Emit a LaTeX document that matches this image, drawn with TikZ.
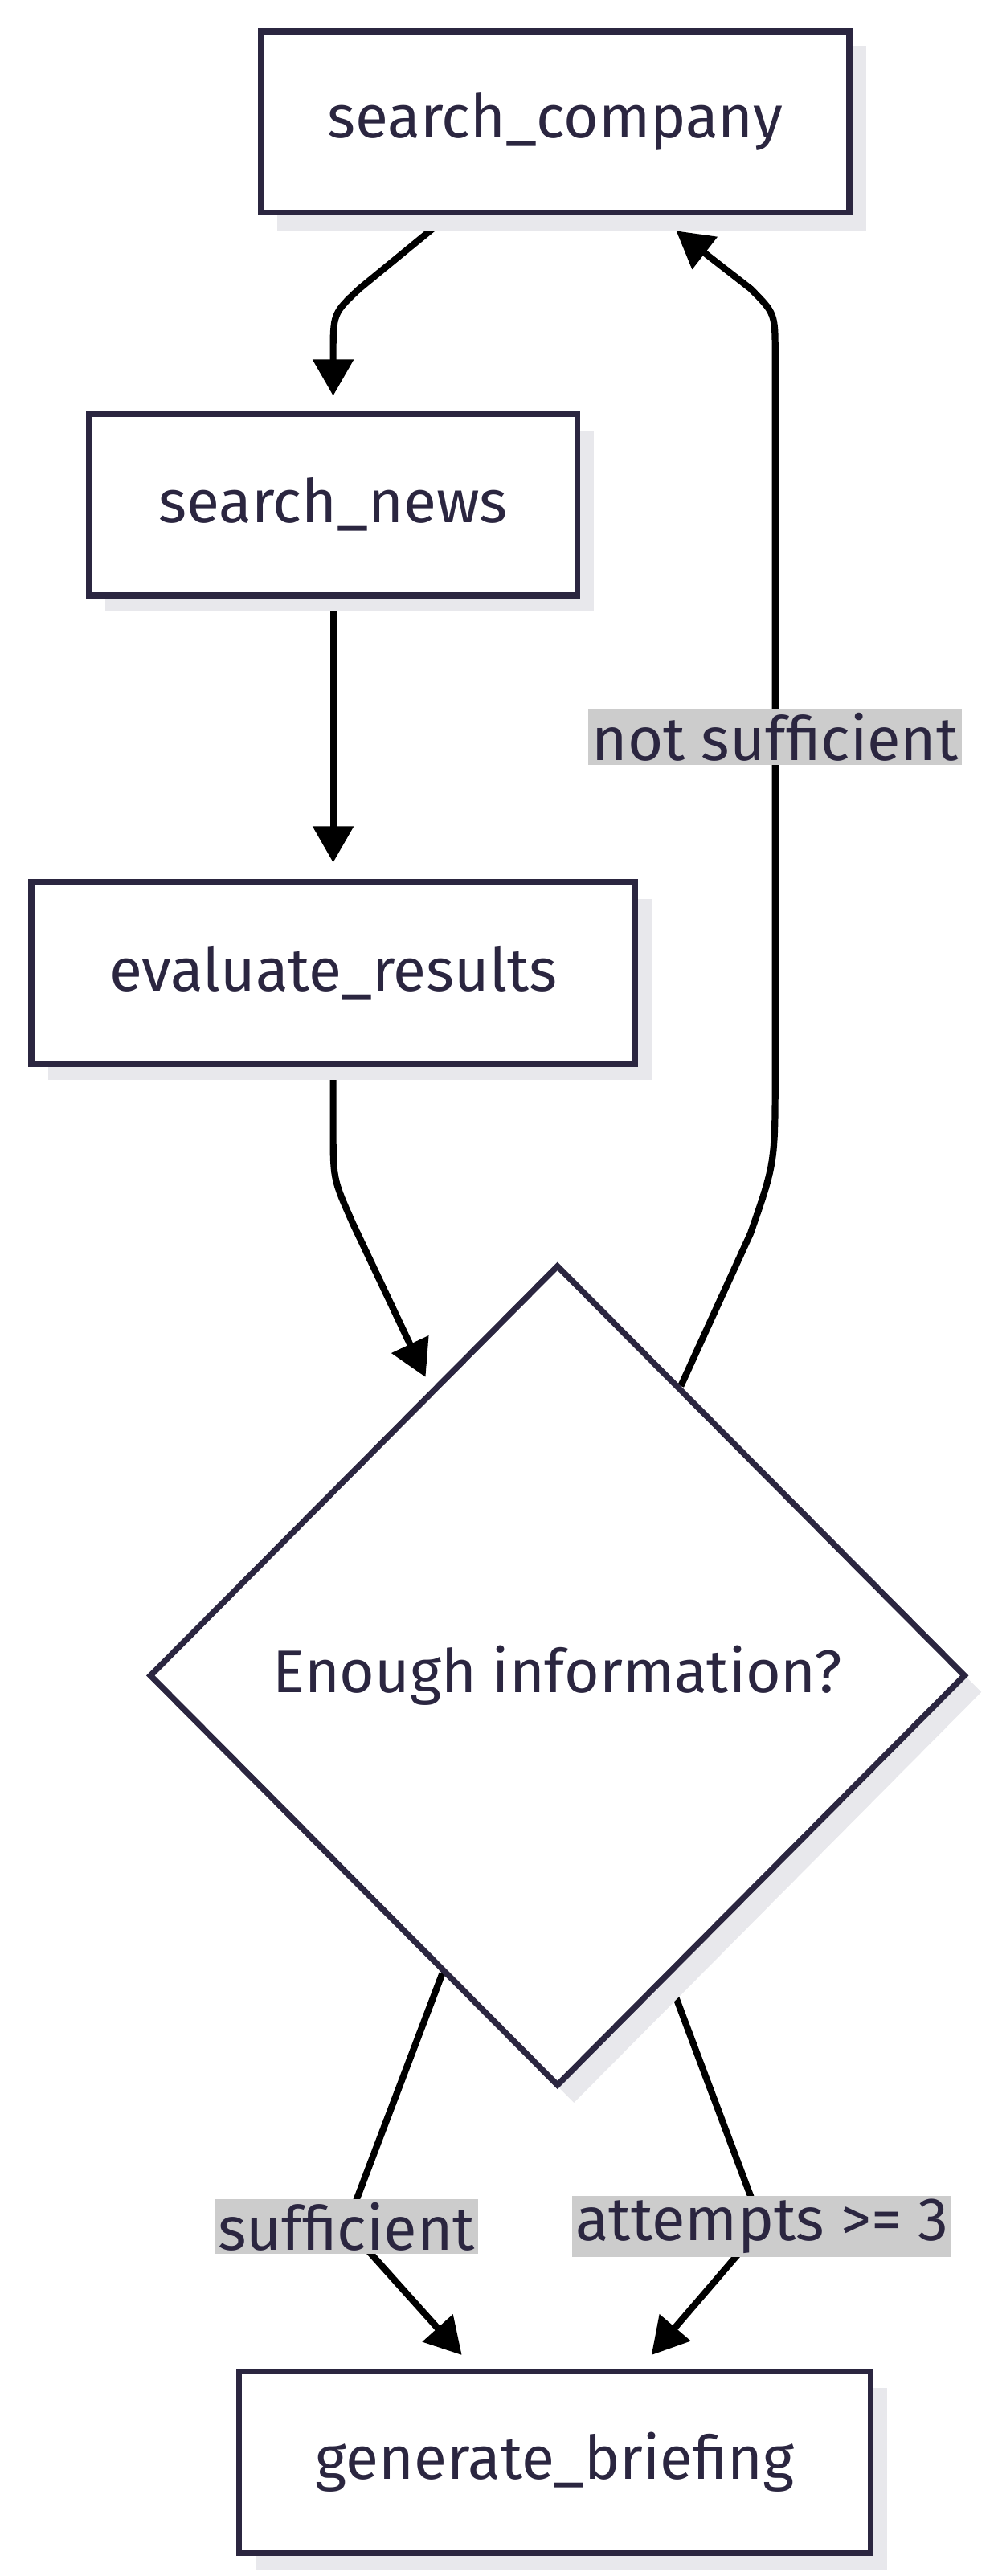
\documentclass[tikz,border=0pt]{standalone}
\usepackage{fontspec}
\setmainfont{Fira Sans}
\usetikzlibrary{shapes.geometric,arrows.meta,calc}
\pgfdeclarelayer{bg}\pgfsetlayers{bg,main}
\definecolor{ink}{HTML}{2B2640}
\definecolor{shad}{HTML}{E8E8EC}
\definecolor{lab}{HTML}{CCCCCC}
\tikzset{
 box/.style={draw=ink,line width=3.6pt,fill=white,minimum height=110pt,text=ink,font=\fontsize{36.5}{42}\selectfont},
 lbl/.style={fill=lab,text=ink,inner sep=2pt,font=\fontsize{37}{42}\selectfont},
 edge/.style={line width=4pt,-{Triangle[length=22pt,width=24pt]}},
}
\begin{document}
\begin{tikzpicture}[x=1pt,y=-1pt]
\useasboundingbox (0,0) rectangle (605,1562);
% shadows
\fill[shad] (168,28) rectangle (525,140);
\fill[shad] (64,261) rectangle (360,371);
\fill[shad] (29,545) rectangle (395,655);
\fill[shad] (155,1448) rectangle (538,1558);
\fill[shad] (348,777) -- (595,1026) -- (348,1275) -- (100,1026) -- cycle;
\node[box,minimum width=357pt] (sc) at (336.5,74) {search\_company};
\node[box,minimum width=296pt] (sn) at (202,306) {search\_news};
\node[box,minimum width=366pt] (ev) at (202,590) {evaluate\_results};
\node[box,minimum width=383pt] (gb) at (336.5,1493) {generate\_briefing};
\node[diamond,draw=ink,line width=3.6pt,fill=white,text=ink,inner sep=0pt,minimum width=495pt,minimum height=498pt,font=\fontsize{36.5}{42}\selectfont] (d) at (338,1016) {Enough information?};
\node[lbl] (l1) at (470,447) {not sufficient};
\node[lbl] (l2) at (210,1350) {sufficient};
\node[lbl] (l3) at (462,1350) {attempts >= 3};
\begin{pgfonlayer}{bg}
\draw[edge] ([xshift=-64.5pt]sc.south) -- (218,175) .. controls (202,190) .. (202,215) -- (202,240);
\draw[edge] (sn.south) -- (202,523);
\draw[edge] (ev.south) -- (202,685) .. controls (202,715) .. (214,742) -- (258,835);
\draw[edge] ($(d.north)!0.3!(d.east)$) -- (455,748) .. controls (470,705) .. (470,650) -- (470,215) .. controls (470,190) .. (455,175) -- (410,140);
\draw[edge] ($(d.south)!0.28!(d.west)$) -- (l2.center) -- (280,1428);
\draw[edge] ($(d.south)!0.27!(d.east)$) -- (l3.center) -- (395,1428);
\end{pgfonlayer}
\end{tikzpicture}
\end{document}
